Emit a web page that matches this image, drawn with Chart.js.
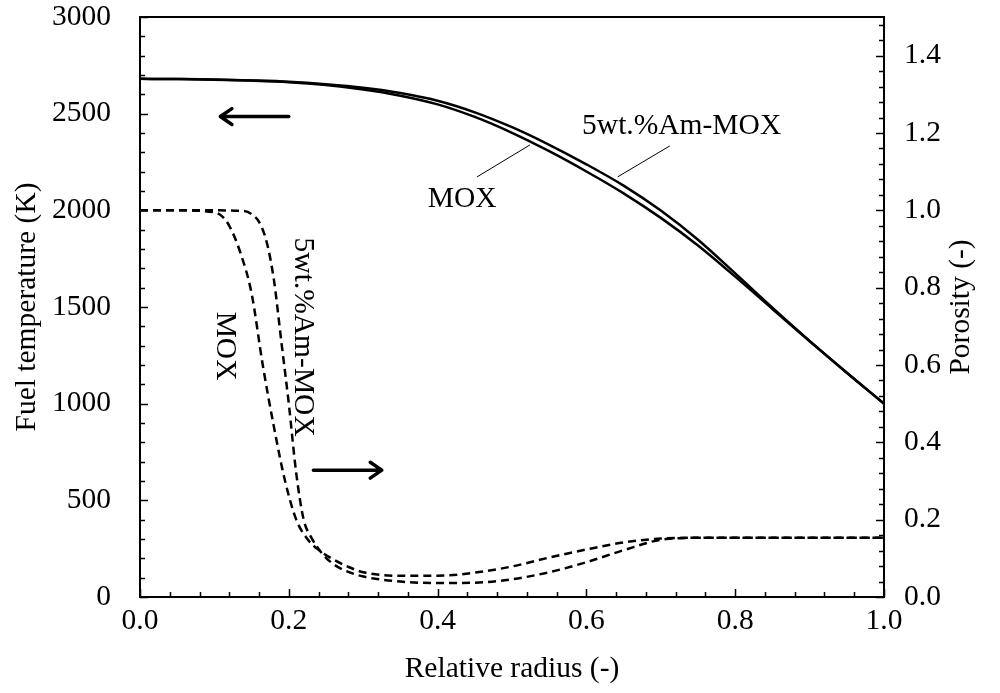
<!DOCTYPE html>
<html>
<head>
<meta charset="utf-8">
<script src="https://cdn.jsdelivr.net/npm/chart.js@4"></script>
<style>
    html, body { margin: 0; padding: 0; background: #fff; }
    #wrap { width: 1000px; height: 693px; position: relative; }
</style>
</head>
<body>
<div id="wrap"><canvas id="fuel-chart"></canvas></div>
<script>
// Fuel temperature (left axis)
const radius = [0, 0.05, 0.1, 0.15, 0.2, 0.25, 0.3, 0.35, 0.4, 0.45, 0.5, 0.55, 0.6, 0.65, 0.7, 0.75, 0.8, 0.85, 0.9, 0.95, 1.0];
const tempMOX = [2680, 2679, 2676, 2671, 2663, 2648, 2625, 2593, 2548, 2483, 2401, 2306, 2201, 2088, 1961, 1818, 1657, 1490, 1323, 1160, 1000];
const tempAmMOX = [2680, 2679, 2677, 2672, 2665, 2652, 2634, 2607, 2567, 2507, 2430, 2339, 2238, 2128, 1999, 1848, 1674, 1497, 1325, 1160, 1000];

// Porosity (right axis)
const porRadiusMOX = [0, 0.05, 0.1, 0.11, 0.12, 0.135, 0.15, 0.165, 0.18, 0.195, 0.21, 0.225, 0.24, 0.26, 0.28, 0.3, 0.35, 0.4, 0.45, 0.5, 0.55, 0.6, 0.65, 0.7, 0.75, 0.8, 0.9, 1.0];
const porMOX = [1.0, 1.0, 0.995, 0.985, 0.96, 0.89, 0.785, 0.6, 0.44, 0.3, 0.2, 0.15, 0.122, 0.097, 0.078, 0.064, 0.055, 0.055, 0.063, 0.079, 0.102, 0.123, 0.141, 0.151, 0.153, 0.153, 0.153, 0.153];
const porRadiusAm = [0, 0.05, 0.1, 0.14, 0.15, 0.16, 0.17, 0.18, 0.19, 0.2, 0.21, 0.22, 0.23, 0.245, 0.26, 0.28, 0.3, 0.35, 0.4, 0.45, 0.5, 0.55, 0.6, 0.65, 0.7, 0.75, 0.8, 0.9, 1.0];
const porAmMOX = [1.0, 1.0, 1.0, 0.998, 0.99, 0.97, 0.92, 0.82, 0.66, 0.5, 0.32, 0.2, 0.155, 0.112, 0.085, 0.065, 0.053, 0.04, 0.036, 0.037, 0.046, 0.064, 0.09, 0.121, 0.148, 0.153, 0.153, 0.153, 0.153];

// Ticks
const xTicks = [0, 0.2, 0.4, 0.6, 0.8, 1.0];
const tempTicks = [0, 500, 1000, 1500, 2000, 2500, 3000];
const porTicks = [0, 0.2, 0.4, 0.6, 0.8, 1.0, 1.2, 1.4];
const xMinor = 0.04, tempMinor = 100, porMinor = 0.04;

const FONT = '"Liberation Serif", "Times New Roman", serif';
const FONT_SIZE = 29.5;

function pts(xs, ys) {
    return xs.map((x, i) => ({ x: x, y: ys[i] }));
}

function setTicks(values) {
    return function(scale) {
        scale.ticks = values.map(v => ({ value: v }));
    };
}

// box, inward ticks, titles and annotations
const decorPlugin = {
    id: 'decor',
    afterDatasetsDraw(chart) {
        const ctx = chart.ctx;
        const a = chart.chartArea;
        const sx = chart.scales.x, sl = chart.scales.yT, sr = chart.scales.yP;
        ctx.save();
        ctx.strokeStyle = '#000';
        ctx.fillStyle = '#000';

        // plot box
        ctx.lineWidth = 2;
        ctx.strokeRect(a.left, a.top, a.right - a.left, a.bottom - a.top);

        // ticks
        ctx.lineWidth = 1.5;
        ctx.beginPath();
        for (let v = 0; v <= 1.0001; v += xMinor) {
            const px = Math.round(sx.getPixelForValue(v)) + 0.5;
            const major = xTicks.some(t => Math.abs(t - v) < 1e-6);
            ctx.moveTo(px, a.bottom);
            ctx.lineTo(px, a.bottom - (major ? 8 : 5));
        }
        for (let v = 0; v <= 3000; v += tempMinor) {
            const py = Math.round(sl.getPixelForValue(v)) + 0.5;
            const major = tempTicks.includes(v);
            ctx.moveTo(a.left, py);
            ctx.lineTo(a.left + (major ? 8 : 5), py);
        }
        for (let v = 0; v <= 1.5001; v += porMinor) {
            const py = Math.round(sr.getPixelForValue(v)) + 0.5;
            const major = porTicks.some(t => Math.abs(t - v) < 1e-6);
            ctx.moveTo(a.right, py);
            ctx.lineTo(a.right - (major ? 8 : 5), py);
        }
        ctx.stroke();

        // axis titles
        ctx.font = FONT_SIZE + 'px ' + FONT;
        ctx.textAlign = 'center';
        ctx.textBaseline = 'middle';
        ctx.fillText('Relative radius (-)', (a.left + a.right) / 2, 669);
        ctx.save();
        ctx.translate(27, (a.top + a.bottom) / 2);
        ctx.rotate(-Math.PI / 2);
        ctx.fillText('Fuel temperature (K)', 0, 0);
        ctx.restore();
        ctx.save();
        ctx.translate(961, (a.top + a.bottom) / 2);
        ctx.rotate(-Math.PI / 2);
        ctx.fillText('Porosity (-)', 0, 0);
        ctx.restore();

        // arrows
        function arrow(x1, y1, x2, y2) {
            const ang = Math.atan2(y2 - y1, x2 - x1);
            ctx.lineWidth = 3.5;
            ctx.lineCap = 'round';
            ctx.lineJoin = 'round';
            ctx.beginPath();
            ctx.moveTo(x1, y1);
            ctx.lineTo(x2, y2);
            ctx.moveTo(x2 - 14 * Math.cos(ang - 0.6), y2 - 14 * Math.sin(ang - 0.6));
            ctx.lineTo(x2, y2);
            ctx.lineTo(x2 - 14 * Math.cos(ang + 0.6), y2 - 14 * Math.sin(ang + 0.6));
            ctx.stroke();
        }
        arrow(sx.getPixelForValue(0.2), sl.getPixelForValue(2485), sx.getPixelForValue(0.108), sl.getPixelForValue(2485));
        arrow(sx.getPixelForValue(0.233), sr.getPixelForValue(0.328), sx.getPixelForValue(0.325), sr.getPixelForValue(0.328));

        // leader lines for temperature curves
        ctx.lineWidth = 1;
        ctx.lineCap = 'butt';
        ctx.beginPath();
        ctx.moveTo(sx.getPixelForValue(0.453), sl.getPixelForValue(2173));
        ctx.lineTo(sx.getPixelForValue(0.524), sl.getPixelForValue(2338));
        ctx.moveTo(sx.getPixelForValue(0.642), sl.getPixelForValue(2173));
        ctx.lineTo(sx.getPixelForValue(0.712), sl.getPixelForValue(2333));
        ctx.stroke();

        ctx.fillText('5wt.%Am-MOX', sx.getPixelForValue(0.728), sl.getPixelForValue(2436));
        ctx.fillText('MOX', sx.getPixelForValue(0.433), sl.getPixelForValue(2059));

        // rotated labels for porosity curves
        ctx.save();
        ctx.translate(sx.getPixelForValue(0.114), sr.getPixelForValue(0.649));
        ctx.rotate(Math.PI / 2);
        ctx.fillText('MOX', 0, 0);
        ctx.restore();
        ctx.save();
        ctx.translate(sx.getPixelForValue(0.219), sr.getPixelForValue(0.672));
        ctx.rotate(Math.PI / 2);
        ctx.fillText('5wt.%Am-MOX', 0, 0);
        ctx.restore();

        ctx.restore();
    }
};

const lineStyle = {
    borderColor: '#000',
    borderWidth: 2.5,
    pointRadius: 0,
    fill: false,
    cubicInterpolationMode: 'monotone'
};

new Chart(document.getElementById('fuel-chart').getContext('2d'), {
    type: 'line',
    data: {
        datasets: [
            Object.assign({ label: 'MOX temperature', data: pts(radius, tempMOX), yAxisID: 'yT' }, lineStyle),
            Object.assign({ label: '5wt.%Am-MOX temperature', data: pts(radius, tempAmMOX), yAxisID: 'yT' }, lineStyle),
            Object.assign({ label: 'MOX porosity', data: pts(porRadiusMOX, porMOX), yAxisID: 'yP', borderDash: [8, 5] }, lineStyle),
            Object.assign({ label: '5wt.%Am-MOX porosity', data: pts(porRadiusAm, porAmMOX), yAxisID: 'yP', borderDash: [8, 5] }, lineStyle)
        ]
    },
    options: {
        responsive: true,
        maintainAspectRatio: false,
        animation: false,
        layout: { padding: { top: 17, left: 0, right: 0, bottom: 0 } },
        plugins: {
            legend: { display: false },
            tooltip: { enabled: false }
        },
        scales: {
            x: {
                type: 'linear',
                min: 0,
                max: 1.0,
                afterBuildTicks: setTicks(xTicks),
                afterFit: function(scale) { scale.height = 96; scale.paddingLeft = 0; scale.paddingRight = 0; },
                grid: { display: false, drawTicks: false },
                border: { display: false },
                ticks: { color: '#000', padding: 7, maxRotation: 0, font: { family: FONT, size: FONT_SIZE }, callback: v => v.toFixed(1) }
            },
            yT: {
                type: 'linear',
                position: 'left',
                min: 0,
                max: 3000,
                afterBuildTicks: setTicks(tempTicks),
                afterFit: function(scale) { scale.width = 140; scale.paddingTop = 0; scale.paddingBottom = 0; },
                grid: { display: false, drawTicks: false },
                border: { display: false },
                ticks: { color: '#000', padding: 29, font: { family: FONT, size: FONT_SIZE }, callback: v => String(v) }
            },
            yP: {
                type: 'linear',
                position: 'right',
                min: 0,
                max: 1.5,
                afterBuildTicks: setTicks(porTicks),
                afterFit: function(scale) { scale.width = 116; scale.paddingTop = 0; scale.paddingBottom = 0; },
                grid: { display: false, drawTicks: false },
                border: { display: false },
                ticks: { color: '#000', padding: 20, font: { family: FONT, size: FONT_SIZE }, callback: v => v.toFixed(1) }
            }
        }
    },
    plugins: [decorPlugin]
});
</script>
</body>
</html>
